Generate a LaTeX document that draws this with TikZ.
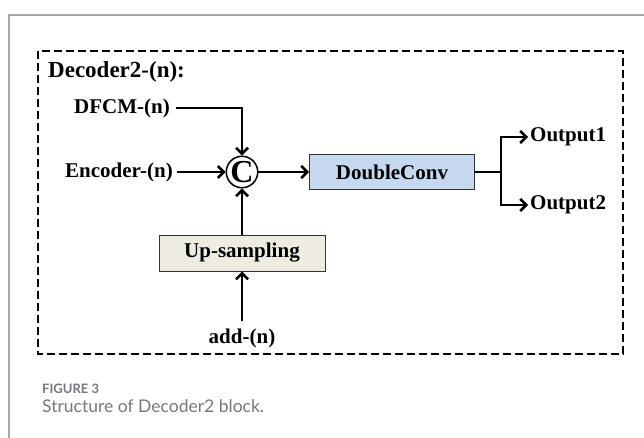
\documentclass[tikz,border=0pt]{standalone}
\usepackage{fontspec}
\setmainfont{Liberation Serif}
\newfontfamily\capfont{Lato}
\usetikzlibrary{arrows.meta, positioning, calc}
\definecolor{frameGray}{RGB}{165,165,172}
\definecolor{capGray}{RGB}{118,118,128}
\definecolor{convBlue}{RGB}{198,217,241}
\definecolor{upBeige}{RGB}{238,236,225}

\begin{document}
\begin{tikzpicture}[x=1pt, y=-1pt, >={Straight Barb[length=6pt, width=12pt]},
    lbl/.style={font=\fontsize{21}{24}\selectfont\bfseries, inner sep=0pt},
    blk/.style={draw=black!80, line width=1pt, minimum height=35pt, font=\fontsize{21}{24}\selectfont\bfseries},
    conn/.style={line width=2.5pt}]
    \useasboundingbox (0,0) rectangle (644,438);
    % card outline
    \draw[frameGray, line width=1.5pt] (9,438) -- (9,15) -- (644,15);
    % dashed frame
    \draw[line width=2.5pt, dash pattern=on 8pt off 4pt] (38,51) rectangle (623,354);
    \node[lbl, anchor=west, font=\fontsize{23}{26}\selectfont\bfseries] (title) at (48,72) {Decoder2-(n):};

    % concat and blocks
    \node[circle, draw, line width=1.5pt, minimum size=30pt, inner sep=0pt, font=\fontsize{32}{32}\selectfont\bfseries] (cat) at (242,172) {C};
    \node[lbl, anchor=east] (enc) at (173,172) {Encoder-(n)};
    \node[lbl, anchor=west] (dfcm) at (74,108) {DFCM-(n)};
    \node[blk, fill=convBlue, minimum width=165pt] (conv) at (392,172) {DoubleConv};
    \node[blk, fill=upBeige, minimum width=166pt, minimum height=36pt] (up) at (242,253) {Up-sampling};
    \node[lbl] (add) at (242,338) {add-(n)};
    \coordinate (split) at (501,172);
    \node[lbl, anchor=west] (out1) at (530,137) {Output1};
    \node[lbl, anchor=west] (out2) at (530,205) {Output2};

    \draw[conn, ->, shorten <=6pt] (dfcm) -| (cat);
    \draw[conn, ->, shorten <=4pt] (enc) -- (cat);
    \draw[conn, ->] (cat) -- (conv);
    \draw[conn, ->] (up) -- (cat);
    \draw[conn, ->, shorten <=7pt] (add) -- (up);

    % outputs
    \draw[conn] (conv) -- (split);
    \draw[conn, ->, shorten >=2pt] (split) |- (out1);
    \draw[conn, ->, shorten >=2pt] (split) |- (out2);

    % caption
    \node[anchor=west, inner sep=0pt, text=capGray, font=\capfont\bfseries\fontsize{13}{15}\selectfont] (fignum) at (42,389) {FIGURE 3};
    \node[anchor=north west, inner sep=0pt, text=capGray, font=\capfont\fontsize{17.5}{20}\selectfont] (caption) at ([yshift=-5pt]fignum.south west) {Structure of Decoder2 block.};
\end{tikzpicture}
\end{document}
